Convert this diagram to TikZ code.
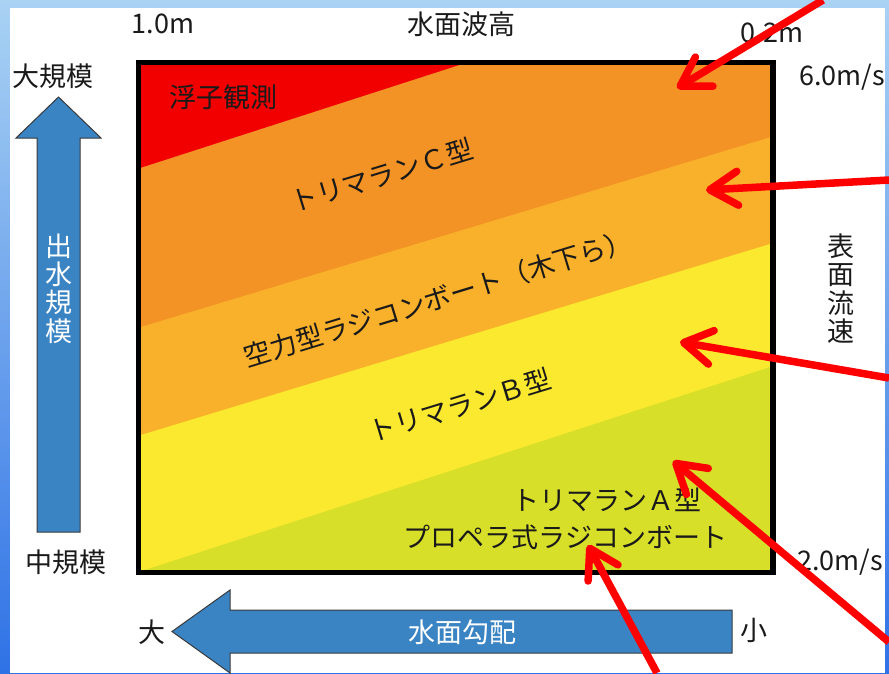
\documentclass[tikz,border=0pt]{standalone}
\usepackage{fontspec}
\setmainfont{Noto Sans CJK JP}
\usetikzlibrary{arrows.meta}
\definecolor{bgtop}{HTML}{A9D2F3}
\definecolor{bgbot}{HTML}{2F72E6}
\definecolor{cred}{HTML}{F20000}
\definecolor{corange}{HTML}{F39325}
\definecolor{clorange}{HTML}{F9B12B}
\definecolor{cyellow}{HTML}{FAE92E}
\definecolor{cygreen}{HTML}{D7DF29}
\definecolor{arrowblue}{HTML}{3B84C4}
\definecolor{arrowedge}{HTML}{3A3A3A}
\definecolor{arrowred}{HTML}{FF0000}
\definecolor{txt}{HTML}{1A1A1A}
\tikzset{
  lbl/.style={font=\fontsize{27}{28.25}\selectfont, text=txt, inner sep=0pt},
  wlbl/.style={font=\fontsize{27}{28.25}\selectfont, text=white, inner sep=0pt},
  bigarrow/.style={fill=arrowblue, draw=arrowedge, line width=1pt, line join=miter},
  redarrow/.style={draw=arrowred, line width=7.5pt, -{Straight Barb[length=28pt,width=34pt,round]}},
}
\begin{document}
\begin{tikzpicture}[x=1pt,y=-1pt]
\useasboundingbox (0,0) rectangle (889,673);
% background
\shade[top color=bgtop, bottom color=bgbot] (0,0) rectangle (889,673);
\fill[white] (10,8) rectangle (885,673);
% bands
\fill[cygreen] (138.5,62.5) rectangle (773,572.5);
\fill[cyellow] (138.5,62.5) -- (773,62.5) -- (773,366) -- (138.5,572) -- cycle;
\fill[clorange] (138.5,62.5) -- (773,62.5) -- (773,243) -- (138.5,435.6) -- cycle;
\fill[corange] (138.5,62.5) -- (773,62.5) -- (773,136.3) -- (138.5,327.6) -- cycle;
\fill[cred] (138.5,62.5) -- (467,62.5) -- (138.5,168.5) -- cycle;
\draw[line width=5.5pt, black] (138.5,62.5) rectangle (773,572.5);
% band labels
\node[lbl] (float) at (223,97) {浮子観測};
\node[lbl, rotate=17] (trc) at (381.5,175) {トリマランＣ型};
\node[lbl, rotate=17] (aero) at (438,298.5) {空力型ラジコンボート（木下ら）};
\node[lbl, rotate=17] (trb) at (460,405) {トリマランＢ型};
\node[lbl] (tra) at (607,500) {トリマランＡ型};
\node[lbl] (prop) at (565.5,537) {プロペラ式ラジコンボート};
% axis labels
\node[lbl, anchor=base] (h1) at (163,33) {1.0m};
\node[lbl] (wh) at (461,24) {水面波高};
\node[lbl, anchor=base] (h2) at (772,42) {0.2m};
\node[lbl, anchor=base] (v1) at (842,85) {6.0m/s};
\node[lbl, anchor=base] (v2) at (840,570) {2.0m/s};
\node[lbl, align=center] (vel) at (841,288.5) {表\\面\\流\\速};
\node[lbl] (large) at (53,76) {大規模};
\node[lbl] (mid) at (66,562) {中規模};
% big blue arrows
\draw[bigarrow] (58.5,97) -- (101,138) -- (80,138) -- (80,532) -- (37,532) -- (37,138) -- (16,138) -- cycle;
\node[wlbl, align=center] (flood) at (58.5,288.5) {出\\水\\規\\模};
\draw[bigarrow] (172,631.5) -- (230,590) -- (230,610) -- (732,610) -- (732,653) -- (230,653) -- (230,673) -- cycle;
\node[wlbl] (slope) at (462,632) {水面勾配};
\node[lbl] (big) at (152,632) {大};
\node[lbl] (small) at (754,630) {小};
% red arrows
\coordinate (s1) at (823,0);   \coordinate (t1) at (677,88);
\coordinate (s2) at (889,180); \coordinate (t2) at (706,190);
\coordinate (s3) at (889,378); \coordinate (t3) at (680,342);
\coordinate (s4) at (889,642); \coordinate (t4) at (673,461);
\coordinate (s5) at (657,673); \coordinate (t5) at (588,545);
\draw[redarrow] (s1) -- (t1);
\draw[redarrow] (s2) -- (t2);
\draw[redarrow] (s3) -- (t3);
\draw[redarrow] (s4) -- (t4);
\draw[redarrow] (s5) -- (t5);
\end{tikzpicture}
\end{document}
